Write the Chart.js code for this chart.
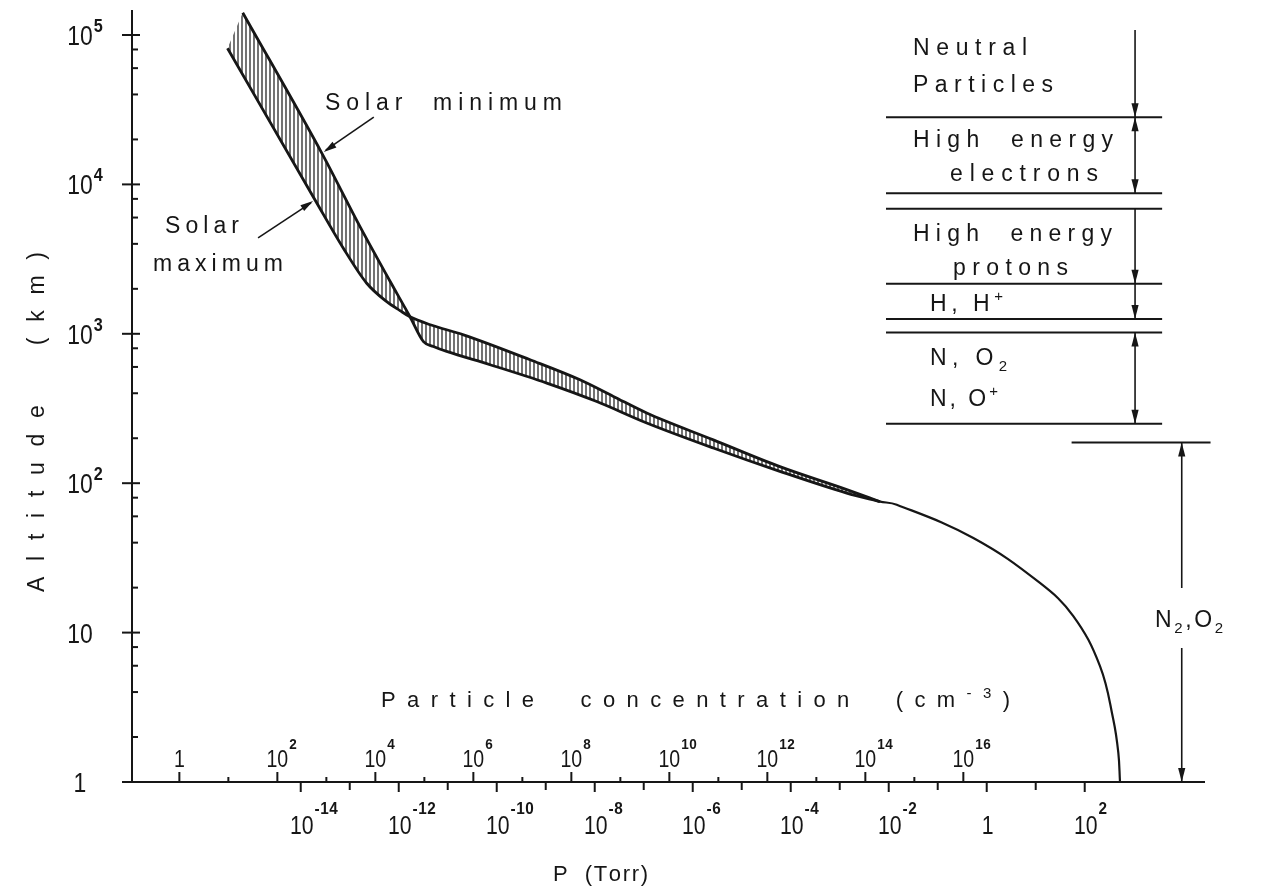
<!DOCTYPE html>
<html>
<head>
<meta charset="utf-8">
<title>Altitude vs pressure and particle concentration</title>
<script src="https://cdn.jsdelivr.net/npm/chart.js@4.4.1/dist/chart.umd.min.js"></script>
<style>
  html, body { margin: 0; padding: 0; background: #fff; }
  canvas { display: block; }
</style>
</head>
<body>
<canvas id="chart" width="1268" height="888"></canvas>
<script>
// Values: pressure in Torr, altitude in km

// solar maximum branch (left edge of the band above ~1300 km, upper edge below)
const maxP   = [3.2e-16, 1.96e-14, 7.4e-14, 2.22e-13, 5.7e-13, 1.06e-12, 1.7e-12, 4.4e-12, 2.1e-11, 4.8e-10, 5.0e-9, 2.4e-8, 1.15e-7, 2.63e-6, 6.0e-5, 1.39e-3, 6.65e-3];
const maxAlt = [81500, 7870, 3740, 2180, 1640, 1430, 1300, 1150, 984, 670, 492, 381, 295, 195, 129, 90.6, 75.2];

// solar minimum branch
const minP   = [6.55e-16, 2.69e-14, 1.62e-13, 9.1e-13, 1.7e-12, 3.2e-12, 5.1e-12, 9.5e-12, 7.3e-11, 1.05e-9, 1.1e-8, 1.15e-7, 2.63e-6, 6.0e-5, 1.39e-3, 6.65e-3];
const minAlt = [141000, 16200, 5220, 1870, 1300, 887, 822, 762, 621, 468, 352, 253, 172, 120, 85.9, 75.2];

// lower atmosphere, one curve for both
const lowP   = [6.65e-3, 1.46e-2, 0.533, 12.2, 58.5, 205, 383, 485, 525];
const lowAlt = [75.2, 71.8, 43.0, 21.5, 12.9, 5.96, 2.62, 1.57, 1.0];

// axes
const pMin = 3.6e-18, pMax = 2.85e4;     // Torr
const altMin = 1, altMax = 1.47e5;       // km
const altExps = [0, 1, 2, 3, 4, 5];
const altMinor = [2, 4, 6, 8];
const pDecades = [-14, -13, -12, -11, -10, -9, -8, -7, -6, -5, -4, -3, -2, -1, 0, 1, 2];
const pLabelExps = [-14, -12, -10, -8, -6, -4, -2, 0, 2];
const nDecades = [0, 1, 2, 3, 4, 5, 6, 7, 8, 9, 10, 11, 12, 13, 14, 15, 16];
const nLabelExps = [0, 2, 4, 6, 8, 10, 12, 14, 16];
const nPerTorr = 3.0e16;                 // cm^-3 per Torr

// regions on the right (km)
const layerBounds = [28100, 8730, 6860, 2160, 1254, 1020, 250];
const layerArrows = [[108000, 28100, 'end'], [28100, 8730, 'both'], [6860, 2160, 'end'], [2160, 1254, 'end'], [1020, 250, 'both']];
const groundTop = 187.5;
const panelP = [8.8e-3, 3.8e3], panelArrowP = 1065;
const groundP = [54, 3.7e4], groundArrowP = 9550;

const ink = '#161616';
const FONT = "'Liberation Sans', 'DejaVu Sans', Arial, sans-serif";

function richText(ctx, str, x, y, o = {}) {
  const size = o.size || 22, sx = o.sx || 1;
  const parts = [];
  str.replace(/([\^_])\{([^}]*)\}|([^\^_]+)/g, (m, k, s, plain) => {
    parts.push(plain !== undefined ? { t: plain, k: '' } : { t: s, k });
    return '';
  });
  const glyphs = [];
  let natural = 0;
  for (const p of parts) {
    const fs = p.k ? Math.round(size * 0.66) : size;
    const wt = o.bold ? 'bold ' : '';
    ctx.font = `${wt}${fs}px ${FONT}`;
    for (const ch of p.t) {
      const w = ctx.measureText(ch).width * sx;
      glyphs.push({ ch, k: p.k, font: ctx.font, w });
      natural += w;
    }
  }
  const n = glyphs.length;
  const sp = o.width ? (o.width - natural) / Math.max(1, n - 1) : (o.spacing || 0);
  const total = natural + sp * (n - 1);
  let cx = o.align === 'center' ? -total / 2 : o.align === 'right' ? -total : 0;
  ctx.save();
  ctx.translate(x, y);
  if (o.rotate) ctx.rotate(o.rotate);
  ctx.textAlign = 'left';
  ctx.textBaseline = 'alphabetic';
  ctx.fillStyle = ink;
  for (const g of glyphs) {
    ctx.font = g.font;
    const dy = g.k === '^' ? -size * 0.42 : g.k === '_' ? size * 0.24 : 0;
    ctx.save();
    ctx.translate(cx, dy);
    ctx.scale(sx, 1);
    ctx.fillText(g.ch, 0, 0);
    ctx.restore();
    cx += g.w + sp;
  }
  ctx.restore();
  return total;
}

// "1", "10" or "10" with a raised exponent, base centred on x
function power(ctx, e, x, y, size, raise) {
  const SX = 0.85;
  if (e === 0) { richText(ctx, '1', x, y, { size, align: 'center', sx: SX }); return; }
  const bw = richText(ctx, '10', x, y, { size, align: 'center', sx: SX });
  if (e !== 1) {
    richText(ctx, String(e), x + bw / 2 + 1, y - raise, { size: Math.round(size * 0.66), sx: 0.9, bold: true, spacing: 0.5 });
  }
}

function seg(ctx, x1, y1, x2, y2) {
  ctx.beginPath(); ctx.moveTo(x1, y1); ctx.lineTo(x2, y2); ctx.stroke();
}

function head(ctx, x1, y1, x2, y2, len = 14, half = 3.6) {
  const a = Math.atan2(y2 - y1, x2 - x1);
  const c = Math.cos(a), s = Math.sin(a);
  ctx.beginPath();
  ctx.moveTo(x2, y2);
  ctx.lineTo(x2 - len * c + half * s, y2 - len * s - half * c);
  ctx.lineTo(x2 - len * c - half * s, y2 - len * s + half * c);
  ctx.closePath();
  ctx.fill();
}

function vArrow(ctx, x, y1, y2, kind) {
  seg(ctx, x, y1, x, y2);
  head(ctx, x, y1, x, y2);
  if (kind === 'both') head(ctx, x, y2, x, y1);
}

const hatchCanvas = document.createElement('canvas');
hatchCanvas.width = 4; hatchCanvas.height = 4;
(() => {
  const g = hatchCanvas.getContext('2d');
  g.strokeStyle = ink; g.lineWidth = 1.2;
  g.beginPath(); g.moveTo(2, 0); g.lineTo(2, 4); g.stroke();
})();

// hatched band between the two solar branches
const hatch = {
  id: 'hatch',
  beforeDatasetsDraw(chart) {
    const ctx = chart.ctx;
    const hi = chart.getDatasetMeta(0).dataset;
    const lo = chart.getDatasetMeta(1).dataset;
    hi.updateControlPoints(chart.chartArea, 'x');
    lo.updateControlPoints(chart.chartArea, 'x');
    ctx.save();
    ctx.beginPath();
    hi.pathSegment(ctx, { start: 0, end: hi.points.length - 1, loop: false }, { move: true });
    lo.pathSegment(ctx, { start: 0, end: lo.points.length - 1, loop: false }, { move: false, reverse: true });
    ctx.closePath();
    ctx.fillStyle = ctx.createPattern(hatchCanvas, 'repeat');
    ctx.fill();
    ctx.restore();
  }
};

// axes, ticks, labels and the region annotations
const frame = {
  id: 'frame',
  afterDraw(chart) {
    const { ctx, chartArea: a } = chart;
    const { x, y, conc } = chart.scales;
    ctx.save();
    ctx.strokeStyle = ink;
    ctx.fillStyle = ink;
    ctx.lineWidth = 2;

    // axis lines
    seg(ctx, a.left, a.top, a.left, a.bottom + 1);
    seg(ctx, a.left - 2, a.bottom, a.right, a.bottom);

    // altitude ticks
    altExps.forEach(e => {
      const py = y.getPixelForValue(10 ** e);
      seg(ctx, a.left - 10, py, a.left + 8, py);
      power(ctx, e, 80, py + 10, 27, 13);
    });
    for (let d = 0; d < 5; d++) {
      altMinor.forEach(m => {
        const py = y.getPixelForValue(m * 10 ** d);
        seg(ctx, a.left, py, a.left + 6, py);
      });
    }

    // pressure ticks below the line
    pDecades.forEach(e => {
      const px = x.getPixelForValue(10 ** e);
      seg(ctx, px, a.bottom, px, a.bottom + (e % 2 === 0 ? 10 : 8));
    });
    pLabelExps.forEach(e => power(ctx, e, x.getPixelForValue(10 ** e) + 1, 834, 25, 20));

    // concentration ticks above the line
    nDecades.forEach(e => {
      const px = conc.getPixelForValue(10 ** e);
      seg(ctx, px, a.bottom, px, a.bottom - (e % 2 === 0 ? 10 : 5));
    });
    nLabelExps.forEach(e => power(ctx, e, conc.getPixelForValue(10 ** e), 767, 23, 18));

    // axis titles
    richText(ctx, 'Particle  concentration  (cm^{-3})', 381, 707, { size: 22, width: 629 });
    richText(ctx, 'P  (Torr)', 553, 881, { size: 22, width: 95 });
    richText(ctx, 'Altitude  (km)', 44, 592, { size: 23, width: 340, rotate: -Math.PI / 2 });

    // solar labels with leader arrows
    const tipMin = chart.getDatasetMeta(1).data[1];
    const tipMax = chart.getDatasetMeta(0).data[1];
    ctx.lineWidth = 1.6;
    seg(ctx, tipMin.x + 52, tipMin.y - 36, tipMin.x + 4, tipMin.y - 3);
    head(ctx, tipMin.x + 52, tipMin.y - 36, tipMin.x + 2, tipMin.y - 1, 13, 3.4);
    seg(ctx, tipMax.x - 57, tipMax.y + 38, tipMax.x - 4, tipMax.y + 3);
    head(ctx, tipMax.x - 57, tipMax.y + 38, tipMax.x - 2, tipMax.y + 1, 13, 3.4);
    richText(ctx, 'Solar  minimum', 325, 110, { size: 23, width: 237 });
    richText(ctx, 'Solar', 165, 233, { size: 23, width: 74 });
    richText(ctx, 'maximum', 153, 271, { size: 23, width: 130 });

    // region boundaries on the right
    ctx.lineWidth = 2;
    const xl = x.getPixelForValue(panelP[0]), xr = x.getPixelForValue(panelP[1]);
    layerBounds.forEach(v => {
      const py = y.getPixelForValue(v);
      seg(ctx, xl, py, xr, py);
    });
    const xa = x.getPixelForValue(panelArrowP);
    ctx.lineWidth = 1.6;
    layerArrows.forEach(([from, to, kind]) => {
      vArrow(ctx, xa, y.getPixelForValue(from), y.getPixelForValue(to), kind);
    });

    // N2, O2 region down to the ground
    ctx.lineWidth = 2;
    const gy = y.getPixelForValue(groundTop);
    seg(ctx, x.getPixelForValue(groundP[0]), gy, x.getPixelForValue(groundP[1]), gy);
    const xg = x.getPixelForValue(groundArrowP);
    ctx.lineWidth = 1.6;
    seg(ctx, xg, gy, xg, 588);
    head(ctx, xg, 600, xg, gy);
    seg(ctx, xg, 648, xg, a.bottom);
    head(ctx, xg, 640, xg, a.bottom);

    // region names
    const L = { size: 23 };
    richText(ctx, 'Neutral', 913, 55, { ...L, width: 114 });
    richText(ctx, 'Particles', 913, 92, { ...L, width: 140 });
    richText(ctx, 'High  energy', 913, 147, { ...L, width: 200 });
    richText(ctx, 'electrons', 950, 181, { ...L, width: 148 });
    richText(ctx, 'High  energy', 913, 241, { ...L, width: 199 });
    richText(ctx, 'protons', 953, 275, { ...L, width: 115 });
    richText(ctx, 'H, H^{+}', 930, 311, { ...L, width: 73 });
    richText(ctx, 'N, O_{2}', 930, 365, { ...L, width: 77 });
    richText(ctx, 'N, O^{+}', 930, 406, { ...L, width: 68 });
    richText(ctx, 'N_{2},O_{2}', 1155, 627, { ...L, width: 68 });

    ctx.restore();
  }
};

const toPoints = (xs, ys) => xs.map((v, i) => ({ x: v, y: ys[i] }));
const lineStyle = {
  showLine: true,
  borderColor: ink,
  backgroundColor: ink,
  pointRadius: 0,
  fill: false
};

new Chart(document.getElementById('chart'), {
  type: 'scatter',
  data: {
    datasets: [
      { label: 'Solar maximum', data: toPoints(maxP, maxAlt), borderWidth: 2.8, cubicInterpolationMode: 'monotone', ...lineStyle },
      { label: 'Solar minimum', data: toPoints(minP, minAlt), borderWidth: 2.8, cubicInterpolationMode: 'monotone', ...lineStyle },
      { label: 'Lower atmosphere', data: toPoints(lowP, lowAlt), borderWidth: 2.2, tension: 0.4, ...lineStyle }
    ]
  },
  options: {
    responsive: false,
    animation: false,
    devicePixelRatio: 1,
    layout: { padding: { left: 132, right: 63, top: 10, bottom: 106 } },
    plugins: { legend: { display: false }, tooltip: { enabled: false } },
    scales: {
      x: { type: 'logarithmic', min: pMin, max: pMax, display: false },
      y: { type: 'logarithmic', min: altMin, max: altMax, display: false },
      conc: { type: 'logarithmic', axis: 'x', position: 'bottom', min: pMin * nPerTorr, max: pMax * nPerTorr, display: false }
    }
  },
  plugins: [hatch, frame]
});
</script>
</body>
</html>
